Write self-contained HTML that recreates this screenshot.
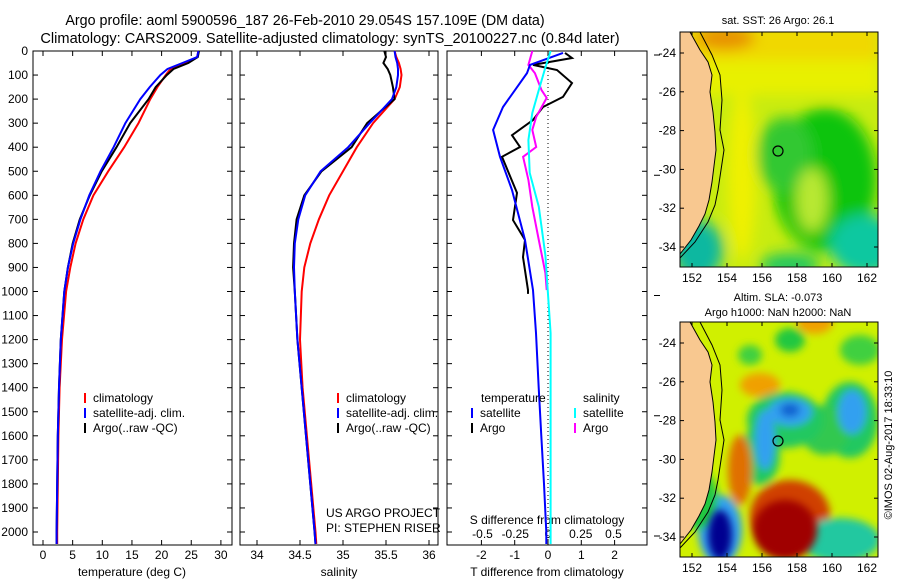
<!DOCTYPE html>
<html><head><meta charset="utf-8"><style>
html,body{margin:0;padding:0;background:#fff;}
svg{display:block;font-family:"Liberation Sans",sans-serif;}
</style></head><body>
<svg id="fig" width="900" height="580" viewBox="0 0 900 580" xmlns="http://www.w3.org/2000/svg">
<defs>
<filter id="bl" x="-30%" y="-30%" width="160%" height="160%"><feGaussianBlur stdDeviation="7"/></filter>
<filter id="bl2" x="-30%" y="-30%" width="160%" height="160%"><feGaussianBlur stdDeviation="4"/></filter>
<clipPath id="cm1"><rect x="680" y="32" width="198" height="235"/></clipPath>
<clipPath id="cm2"><rect x="680" y="322" width="198" height="235"/></clipPath>
</defs>
<text x="305" y="25" text-anchor="middle" font-size="14.3">Argo profile: aoml 5900596_187 26-Feb-2010 29.054S 157.109E (DM data)</text>
<text x="330" y="43" text-anchor="middle" font-size="14.6">Climatology: CARS2009. Satellite-adjusted climatology: synTS_20100227.nc (0.84d later)</text>
<text x="778" y="24" text-anchor="middle" font-size="11">sat. SST: 26 Argo: 26.1</text>
<text x="778" y="301" text-anchor="middle" font-size="11">Altim. SLA: -0.073</text>
<text x="778" y="316" text-anchor="middle" font-size="11">Argo h1000: NaN h2000: NaN</text>
<text transform="translate(892,445) rotate(-90)" text-anchor="middle" font-size="11">©IMOS 02-Aug-2017 18:33:10</text>

<!-- SST map -->
<g clip-path="url(#cm1)">
<rect x="680" y="32" width="198" height="235" fill="#c8ec10"/>
<g filter="url(#bl)">
<rect x="680" y="25" width="200" height="35" fill="#f0d800"/>
<ellipse cx="725" cy="38" rx="30" ry="12" fill="#e89000"/>
<rect x="700" y="60" width="180" height="35" fill="#e8f000"/>
<ellipse cx="825" cy="180" rx="52" ry="72" fill="#10c410"/>
<ellipse cx="785" cy="155" rx="28" ry="38" fill="#30c830"/>
<ellipse cx="812" cy="200" rx="16" ry="32" fill="#b8e830"/>
<ellipse cx="865" cy="245" rx="35" ry="30" fill="#10c8a0"/>
<ellipse cx="698" cy="250" rx="25" ry="30" fill="#10b8a0"/>
<ellipse cx="742" cy="175" rx="14" ry="85" fill="#f0f000"/>
<ellipse cx="790" cy="265" rx="30" ry="12" fill="#20c860"/>
</g>
</g>
<g clip-path="url(#cm1)">
<polygon points="680,32 690,32 700,50 708,62 712,75 710,92 713,112 715,132 716,150 714,166 712,182 709,200 705,214 699,226 691,240 680,254" fill="#f8c890"/>
<polyline points="690,32 700,50 708,62 712,75 710,92 713,112 715,132 716,150 714,166 712,182 709,200 705,214 699,226 691,240 680,254" fill="none" stroke="#000" stroke-width="1"/>
<polyline points="700,32 712,55 720,75 722,100 720,130 724,150 721,170 718,190 715,205 708,222 695,242 680,258" fill="none" stroke="#000" stroke-width="1"/>
<circle cx="778" cy="151" r="5" fill="none" stroke="#000" stroke-width="1.2"/>
</g>
<rect x="680" y="32" width="198" height="235" fill="none" stroke="#000" stroke-width="1"/>

<!-- SLA map -->
<g clip-path="url(#cm2)">
<rect x="680" y="322" width="198" height="235" fill="#d0f000"/>
<g filter="url(#bl2)">
<ellipse cx="790" cy="340" rx="15" ry="12" fill="#20c840"/>
<ellipse cx="750" cy="355" rx="12" ry="10" fill="#40d040"/>
<ellipse cx="860" cy="350" rx="20" ry="15" fill="#40d040"/>
<ellipse cx="760" cy="385" rx="20" ry="12" fill="#f0a000"/>
<ellipse cx="815" cy="322" rx="18" ry="12" fill="#f0a000"/>
<ellipse cx="850" cy="420" rx="28" ry="38" fill="#20c860"/>
<ellipse cx="825" cy="430" rx="25" ry="25" fill="#30c850"/>
<ellipse cx="785" cy="420" rx="38" ry="28" fill="#20c860"/>
<ellipse cx="760" cy="455" rx="20" ry="30" fill="#20c860"/>
<ellipse cx="852" cy="412" rx="14" ry="22" fill="#30a0f0"/>
<ellipse cx="790" cy="412" rx="22" ry="14" fill="#30a0f0"/>
<ellipse cx="765" cy="440" rx="10" ry="30" fill="#30a0f0"/>
<ellipse cx="790" cy="410" rx="10" ry="7" fill="#1060d0"/>
<ellipse cx="740" cy="470" rx="12" ry="35" fill="#e07000"/>
<ellipse cx="790" cy="515" rx="40" ry="35" fill="#d04000"/>
<ellipse cx="720" cy="530" rx="22" ry="35" fill="#30a0f0"/>
<ellipse cx="840" cy="540" rx="40" ry="22" fill="#20c8a0"/>
<ellipse cx="700" cy="500" rx="18" ry="30" fill="#20c840"/>
</g>
<g filter="url(#bl2)">
<ellipse cx="785" cy="530" rx="32" ry="30" fill="#a00000"/>
<ellipse cx="720" cy="535" rx="12" ry="25" fill="#000090"/>
</g>
<polygon points="680,322 690,322 700,340 708,352 712,365 710,382 713,402 715,422 716,440 714,456 712,472 709,490 705,504 699,516 691,530 680,544" fill="#f8c890"/>
<polyline points="690,322 700,340 708,352 712,365 710,382 713,402 715,422 716,440 714,456 712,472 709,490 705,504 699,516 691,530 680,544" fill="none" stroke="#000" stroke-width="1"/>
<polyline points="700,322 712,345 720,365 722,390 720,420 724,440 721,460 718,480 715,495 708,512 695,532 680,548" fill="none" stroke="#000" stroke-width="1"/>
<circle cx="778" cy="441" r="5" fill="none" stroke="#000" stroke-width="1.2"/>
</g>
<rect x="680" y="322" width="198" height="235" fill="none" stroke="#000" stroke-width="1"/>
<g id="mapaxes"></g>
<g id="plots"></g>
</svg>
<script>
// ---- data ----
const depths = [0,25,50,75,100,150,200,300,400,500,600,700,800,900,1000,1200,1400,1600,1800,2000,2050];
const tempClim = [26.2,26,24,21.5,20.7,19.3,18.1,16.1,13.7,11,8.5,6.8,5.5,4.6,3.9,3.2,2.8,2.6,2.5,2.4,2.4];
const tempSat  = [26.2,26,23.5,21,19.8,18,16.4,13.9,11.9,9.7,7.8,6.3,5.1,4.2,3.6,3.0,2.7,2.5,2.4,2.3,2.3];
const tempArgo = [26.3,26.1,24.5,22,20.9,19,17.8,14.7,12.4,9.9,7.9,6.2,5.0,4.2,3.6,3.0,2.7,2.5,2.4,2.3,2.3];
const salClim = [35.6,35.62,35.65,35.67,35.68,35.66,35.6,35.35,35.16,35.0,34.84,34.72,34.62,34.55,34.52,34.5,34.53,34.58,34.63,34.68,34.69];
const salSat  = [35.6,35.61,35.63,35.64,35.64,35.62,35.57,35.31,35.06,34.74,34.56,34.48,34.44,34.43,34.44,34.47,34.52,34.57,34.62,34.67,34.68];
const salArgo = [35.48,35.5,35.47,35.52,35.55,35.58,35.6,35.28,35.1,34.75,34.55,34.46,34.43,34.42,34.44,34.47,34.52,34.57,34.62,34.67,34.68];
const dTSatDepth = [8,58,92,233,328,440,578,786,994,1173,1400,1600,1800,2000,2050];
const dTSat = [0.45,-0.54,-0.63,-1.35,-1.65,-1.44,-1.08,-0.69,-0.45,-0.36,-0.28,-0.2,-0.12,-0.05,-0.05];
const dTArgoDepth = [8,29,58,79,133,191,233,287,350,399,440,590,703,786,857,994,1010];
const dTArgo = [0.51,0.72,-0.45,0.27,0.72,0.45,-0.15,-0.45,-1.08,-0.84,-1.38,-0.93,-1.05,-0.69,-0.75,-0.6,-0.6];
const dSArgoDepth = [0,58,92,162,195,274,328,399,440,536,648,786,923,994];
const dSArgo = [-0.12,-0.15,-0.10,-0.05,-0.01,-0.09,-0.12,-0.09,-0.19,-0.15,-0.12,-0.07,-0.02,-0.01];
const dSSatDepth = [0,68,162,258,370,507,648,850,1173,1500,2000,2050];
const dSSat = [0.02,-0.02,-0.07,-0.12,-0.15,-0.14,-0.07,-0.02,0.02,0.02,0.02,0.02];
const depthTicks = [0,100,200,300,400,500,600,700,800,900,1000,1100,1200,1300,1400,1500,1600,1700,1800,1900,2000];
const tempTicks = [0,5,10,15,20,25,30];
const salTicks = [34,34.5,35,35.5,36];
const salTickLabels = ["34","34.5","35","35.5","36"];
const dTTicks = [-2,-1,0,1,2];
const dSTicks = [-0.5,-0.25,0,0.25,0.5];
const dSTickLabels = ["-0.5","-0.25","0","0.25","0.5"];
const lonTicks = [152,154,156,158,160,162];
const latTicks = [-24,-26,-28,-30,-32,-34];

// ---- axes ----
const TOP=51, BOT=545;
const yD = d => TOP + d*0.2405;
const xT = t => 43 + t*5.93;
const xS = s => 257 + (s-34)*86;
const xDT = v => 548 + v*33.3;
const xDS = v => 548 + v*131;
const NS="http://www.w3.org/2000/svg";
const plots=document.getElementById('plots');
function mk(tag,attrs,parent){const e=document.createElementNS(NS,tag);for(const k in attrs)e.setAttribute(k,attrs[k]);(parent||plots).appendChild(e);return e;}
function txt(x,y,s,anchor,size,parent){const e=mk('text',{x:x,y:y,'text-anchor':anchor||'start','font-size':size||12},parent);e.textContent=s;return e;}
function line(xs,ys,fx,color,w,name){
  let p=''; for(let i=0;i<xs.length;i++){p+=(i?'L':'M')+fx(xs[i]).toFixed(1)+','+yD(ys[i]).toFixed(1);}
  const e=mk('path',{d:p,fill:'none',stroke:color,'stroke-width':w||2});
  
  
}
const panels=[[33,232],[240,438],[447,647]];
panels.forEach((pp,i)=>{
  const r=mk('rect',{x:pp[0],y:TOP,width:pp[1]-pp[0],height:BOT-TOP,fill:'none',stroke:'#000','stroke-width':1});
  
  
  depthTicks.forEach(d=>{
    mk('line',{x1:pp[0],x2:pp[0]+5,y1:yD(d),y2:yD(d),stroke:'#000'});
    mk('line',{x1:pp[1],x2:pp[1]-5,y1:yD(d),y2:yD(d),stroke:'#000'});
  });
});
depthTicks.forEach(d=>{const t=txt(28,yD(d)+4,String(d),'end',12);
  
  });
depthTicks.filter(d=>d%500===0).forEach(d=>mk('line',{x1:654,x2:660,y1:yD(d)+4,y2:yD(d)+4,stroke:'#000'}));
function xticks(ticks,labels,fx,pp,ly,topTicks){
  ticks.forEach((v,i)=>{const x=fx(v);
    mk('line',{x1:x,x2:x,y1:BOT,y2:BOT-5,stroke:'#000'});
    if(topTicks) mk('line',{x1:x,x2:x,y1:TOP,y2:TOP+5,stroke:'#000'});
    const t=txt(x,ly,labels[i],'middle',12);
    
    });
}
xticks(tempTicks,tempTicks.map(String),xT,panels[0],559,true);
xticks(salTicks,salTickLabels,xS,panels[1],559,true);
xticks(dTTicks,dTTicks.map(String),xDT,panels[2],559,true);
dSTicks.forEach((v,i)=>{const t=txt(xDS(v),538,dSTickLabels[i],'middle',12);
  
  });
[[132,'temperature (deg C)'],[339,'salinity'],[547,'T difference from climatology']].forEach(a=>{
  const t=txt(a[0],576,a[1],'middle',12);
  
  });
const st=txt(547,524,'S difference from climatology','middle',12);


const z=mk('line',{x1:xDT(0),x2:xDT(0),y1:TOP,y2:BOT,stroke:'#000','stroke-dasharray':'1,3'});



line(tempClim,depths,xT,'#f00',2,'temp-climatology-line');
line(tempArgo,depths,xT,'#000',2,'temp-argo-line');
line(tempSat,depths,xT,'#00f',2,'temp-satellite-line');
line(salClim,depths,xS,'#f00',2,'sal-climatology-line');
line(salArgo,depths,xS,'#000',2,'sal-argo-line');
line(salSat,depths,xS,'#00f',2,'sal-satellite-line');
line(dTArgo,dTArgoDepth,xDT,'#000',2,'tdiff-argo-line');
line(dSArgo,dSArgoDepth,xDS,'#f0f',2,'sdiff-argo-line');
line(dTSat,dTSatDepth,xDT,'#00f',2,'tdiff-satellite-line');
line(dSSat,dSSatDepth,xDS,'#0ff',2,'sdiff-satellite-line');

function legend(x,y,items){items.forEach((it,i)=>{
  mk('line',{x1:x,x2:x,y1:y+i*15-9,y2:y+i*15+1,stroke:it[0],'stroke-width':2});
  const t=txt(x+8,y+i*15,it[1],'start',12);
  
  });}
const L=[['#f00','climatology'],['#00f','satellite-adj. clim.'],['#000','Argo(..raw -QC)']];
legend(85,402,L); legend(338,402,L);
txt(481,402,'temperature','start',12); txt(583,402,'salinity','start',12);
legend(472,417,[['#00f','satellite'],['#000','Argo']]);
legend(575,417,[['#0ff','satellite'],['#f0f','Argo']]);
txt(326,517,'US ARGO PROJECT','start',12); txt(326,532,'PI: STEPHEN RISER','start',12);

const ma=document.getElementById('mapaxes');
const xLon=l=>692+(l-152)*17.5;
[[32,267,53],[322,557,343]].forEach((m,mi)=>{
  const yLat=la=>m[2]+(-24-la)*19.4;
  lonTicks.forEach(l=>{const x=xLon(l);
    mk('line',{x1:x,x2:x,y1:m[1],y2:m[1]-4,stroke:'#000'},ma);
    mk('line',{x1:x,x2:x,y1:m[0],y2:m[0]+4,stroke:'#000'},ma);
    const t=txt(x,m[1]+15,String(l),'middle',12,ma);
    
    });
  latTicks.forEach(la=>{const y=yLat(la);
    mk('line',{x1:680,x2:684,y1:y,y2:y,stroke:'#000'},ma);
    mk('line',{x1:878,x2:874,y1:y,y2:y,stroke:'#000'},ma);
    const t=txt(676,y+4,String(la),'end',12,ma);
    
    });
});
</script>
</body></html>
